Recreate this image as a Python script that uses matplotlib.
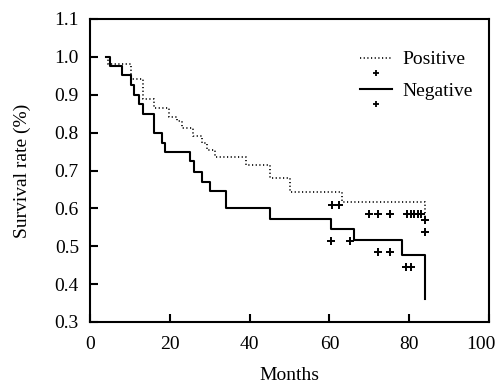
import matplotlib
matplotlib.use("Agg")
import matplotlib.pyplot as plt
import matplotlib.transforms as mtransforms
from matplotlib.legend_handler import HandlerBase
from matplotlib.lines import Line2D

plt.rcParams["font.family"] = ["Liberation Serif", "DejaVu Serif"]

# Kaplan-Meier steps (months, survival)
pos_time = [4.2, 4.5, 10.3, 13.2, 16.0, 19.9, 21.9, 23.0, 25.9, 28.1, 29.2, 31.3,
            39.1, 45.2, 50.1, 63.1, 84.0]
pos_surv = [1.0, 0.980, 0.942, 0.889, 0.866, 0.842, 0.831, 0.811, 0.791, 0.772,
            0.754, 0.735, 0.715, 0.679, 0.642, 0.618, 0.58]

neg_time = [4.0, 5.0, 8.1, 10.2, 11.1, 12.3, 13.4, 16.1, 18.0, 18.8, 25.1, 26.1,
            28.1, 30.2, 34.2, 45.1, 60.5, 66.2, 78.1, 84.0]
neg_surv = [1.0, 0.976, 0.951, 0.925, 0.899, 0.875, 0.850, 0.798, 0.773, 0.750,
            0.724, 0.697, 0.670, 0.646, 0.600, 0.572, 0.545, 0.517, 0.477, 0.360]

# censored marks
pos_cens_x = [60.6, 62.4, 70.0, 72.3, 75.2, 79.5, 80.4, 81.2, 82.1, 82.9, 84.0]
pos_cens_y = [0.609, 0.609, 0.584, 0.584, 0.584, 0.584, 0.584, 0.584, 0.584, 0.584, 0.569]
neg_cens_x = [60.4, 65.2, 72.1, 75.2, 79.2, 80.4, 84.0]
neg_cens_y = [0.514, 0.514, 0.486, 0.486, 0.446, 0.446, 0.537]

x_ticks = [0, 20, 40, 60, 80, 100]
y_ticks = [0.3, 0.4, 0.5, 0.6, 0.7, 0.8, 0.9, 1.0, 1.1]

FS = 14


class LineCensorHandler(HandlerBase):
    # line with a "+" drawn underneath, like the original legend
    def create_artists(self, legend, orig_handle, xdescent, ydescent,
                       width, height, fontsize, trans):
        y = height / 2 - ydescent
        line = Line2D([-xdescent, width - xdescent], [y, y])
        line.update_from(orig_handle)
        mark = Line2D([width / 2 - xdescent], [y - 0.78 * fontsize],
                      marker="+", markersize=5, markeredgewidth=1.3,
                      color="black", linestyle="none")
        line.set_transform(trans)
        mark.set_transform(trans)
        return [line, mark]


fig = plt.figure(figsize=(5.01, 3.83), dpi=100)
ax = fig.add_axes([90 / 501, 1 - 322 / 383, 399 / 501, 303 / 383])

l_pos, = ax.step(pos_time, pos_surv, where="post", color="black",
                 linestyle=(0, (0.7, 1.5)), linewidth=1.2)
l_neg, = ax.step(neg_time, neg_surv, where="post", color="black",
                 linestyle="-", linewidth=1.5)
ax.plot(pos_cens_x, pos_cens_y, linestyle="none", marker="+", markersize=6,
        markeredgewidth=1.4, color="black")
ax.plot(neg_cens_x, neg_cens_y, linestyle="none", marker="+", markersize=6,
        markeredgewidth=1.4, color="black")

ax.set_xlim(0, 100)
ax.set_ylim(0.3, 1.1)
ax.set_xticks(x_ticks)
ax.set_yticks(y_ticks)
ax.set_yticklabels([f"{v:.1f}" for v in y_ticks])
ax.tick_params(direction="in", length=6, width=1.5, labelsize=FS)
ax.tick_params(axis="x", pad=10)
ax.tick_params(axis="y", pad=8)
for s in ax.spines.values():
    s.set_linewidth(1.5)

# "100" sits a little to the left so it stays inside the picture
last = ax.get_xticklabels()[-1]
last.set_transform(last.get_transform() +
                   mtransforms.ScaledTranslation(-6 / 72, 0, fig.dpi_scale_trans))

ax.set_xlabel("Months", fontsize=FS, labelpad=10)
ax.set_ylabel("Survival rate (%)", fontsize=FS, labelpad=17)

ax.legend([l_pos, l_neg], ["Positive", "Negative"],
          handler_map={Line2D: LineCensorHandler()},
          loc="upper left", bbox_to_anchor=(0.677, 0.895), frameon=False,
          borderaxespad=0, borderpad=0,
          fontsize=FS, labelspacing=0.7, handlelength=1.65, handletextpad=0.5)

fig.savefig("out.png", dpi=100)
